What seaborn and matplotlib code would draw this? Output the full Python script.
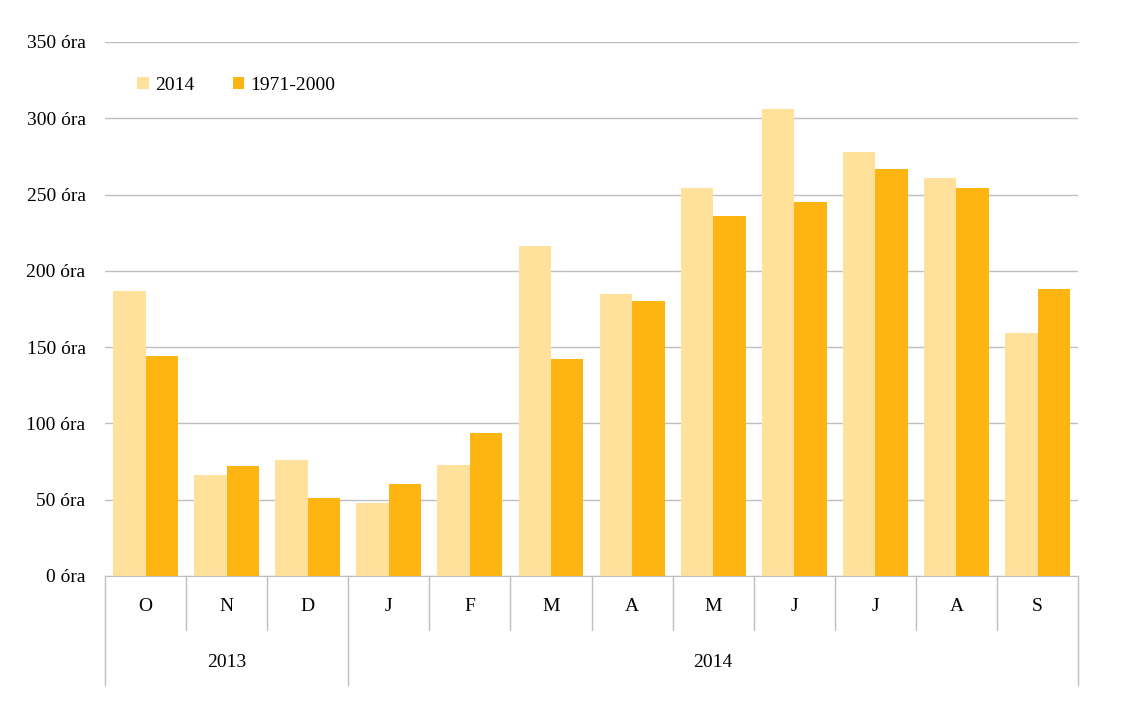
import matplotlib.pyplot as plt
import pandas as pd
import seaborn as sns

# Monthly sunshine hours, Oct 2013 - Sep 2014 vs 1971-2000 normal
months = ["O", "N", "D", "J", "F", "M", "A", "M", "J", "J", "A", "S"]
years = ["2013", "2013", "2013", "2014", "2014", "2014", "2014", "2014", "2014", "2014", "2014", "2014"]
hours_2014 = [187, 66, 76, 48, 73, 216, 185, 254, 306, 278, 261, 159]
hours_normal = [144, 72, 51, 60, 94, 142, 180, 236, 245, 267, 254, 188]
series_names = ["2014", "1971-2000"]
colors = ["#FFE19C", "#FFB511"]

keys = [f"{m}{i}" for i, m in enumerate(months)]
df = pd.DataFrame({
    "key": keys * 2,
    "hours": hours_2014 + hours_normal,
    "series": [series_names[0]] * 12 + [series_names[1]] * 12,
})

sns.set_style("white", {"text.color": "black", "ytick.color": "black"})
plt.rcParams["font.family"] = ["Liberation Serif", "DejaVu Serif"]

fig = plt.figure(figsize=(11.21, 7.19), dpi=100)
ax = fig.add_axes([0.0937, 0.1989, 0.868, 0.7427])

sns.barplot(data=df, x="key", y="hours", hue="series", order=keys,
            hue_order=series_names, palette=colors, width=0.8,
            saturation=1, ax=ax, linewidth=0)

ax.set_ylim(0, 350)
ax.set_xlim(-0.5, 11.5)
ax.set_yticks(range(0, 351, 50))
ax.set_yticklabels([f"{v} óra" for v in range(0, 351, 50)], fontsize=14)
ax.tick_params(axis="y", length=0, pad=14, labelcolor="black")
ax.set_xticks([])
ax.set_xlabel("")
ax.set_ylabel("")
ax.yaxis.grid(True, color="#BFBFBF", linewidth=1)
ax.set_axisbelow(True)
for s in ["left", "right", "top"]:
    ax.spines[s].set_visible(False)
ax.spines["bottom"].set_color("#BFBFBF")

# two-level category axis
trans = ax.get_xaxis_transform()
for i, m in enumerate(months):
    ax.text(i, -0.058, m, transform=trans, ha="center", va="center",
            fontsize=14, color="black")
for i in range(13):
    x = i - 0.5
    edge = i == 0 or i == 12 or years[i - 1] != years[min(i, 11)]
    y_end = -0.204 if edge else -0.101
    ax.plot([x, x], [0, y_end], transform=trans, color="#BFBFBF",
            linewidth=1, clip_on=False)
for yr in ["2013", "2014"]:
    idx = [i for i, y in enumerate(years) if y == yr]
    ax.text((idx[0] + idx[-1]) / 2, -0.162, yr, transform=trans,
            ha="center", va="center", fontsize=14, color="black")

leg = ax.legend(loc="upper left", bbox_to_anchor=(0.015, 0.968), ncol=2, frameon=False,
                fontsize=14, handlelength=0.6, handleheight=0.6, handletextpad=0.3,
                columnspacing=2.0)
for t in leg.get_texts():
    t.set_color("black")

fig.savefig("out.png", dpi=100)
